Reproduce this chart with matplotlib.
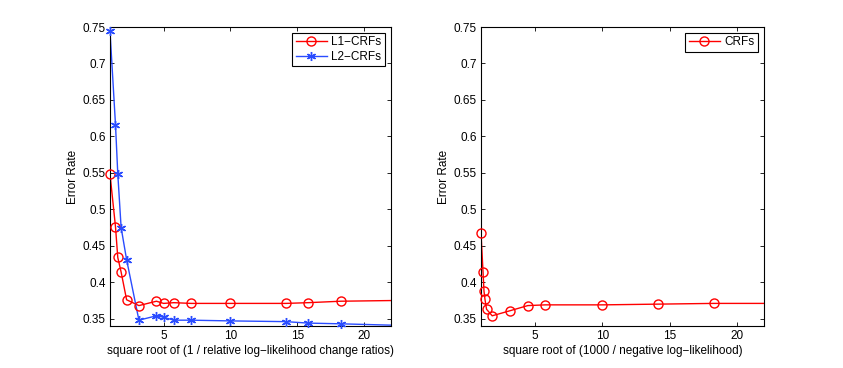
import matplotlib.pyplot as plt
import numpy as np

plt.rcParams['font.family'] = ['Liberation Sans', 'DejaVu Sans']

# left panel: error rate vs sqrt(1 / relative log-likelihood change ratio)
x_left = [1.0, 1.41, 1.58, 1.83, 2.24, 3.16, 4.47, 5.0, 5.77, 7.07, 10.0, 14.14, 15.81, 18.26, 22.36]
l1_crfs = [0.548, 0.476, 0.434, 0.414, 0.376, 0.368, 0.374, 0.371, 0.372, 0.371, 0.371, 0.371, 0.372, 0.374, 0.375]
l2_crfs = [0.744, 0.616, 0.549, 0.475, 0.431, 0.348, 0.354, 0.352, 0.348, 0.348, 0.347, 0.346, 0.344, 0.343, 0.341]

# right panel: error rate vs sqrt(1000 / negative log-likelihood)
x_right = [1.0, 1.15, 1.22, 1.29, 1.41, 1.83, 3.16, 4.47, 5.77, 10.0, 14.14, 18.26, 22.36]
crfs = [0.467, 0.414, 0.388, 0.377, 0.363, 0.354, 0.361, 0.368, 0.369, 0.369, 0.370, 0.371, 0.371]

yticks = [0.35, 0.4, 0.45, 0.5, 0.55, 0.6, 0.65, 0.7, 0.75]
ytick_labels = ['0.35', '0.4', '0.45', '0.5', '0.55', '0.6', '0.65', '0.7', '0.75']
xticks = [5, 10, 15, 20]
xmax = 22

red = '#ff0000'
blue = '#2a4cff'

fig = plt.figure(figsize=(8.43, 3.68), dpi=100)
ax1 = fig.add_axes([0.1305, 0.1141, 0.3333, 0.8125])
ax2 = fig.add_axes([0.5706, 0.1141, 0.3357, 0.8125])


def curve(ax, x, y, color, marker, ms, label):
    # line is clipped at the box, markers are not (matlab style)
    inside = [i for i, v in enumerate(x) if v <= xmax]
    ax.plot(x, y, '-', color=color, lw=1.0)
    ax.plot(x, y, ls='none', marker=marker, color=color, mfc='none', ms=ms, mew=1.0,
            markevery=inside, clip_on=False, zorder=3)
    ax.plot([], [], '-', marker=marker, color=color, mfc='none', ms=ms, mew=1.0, lw=1.0, label=label)


curve(ax1, x_left, l1_crfs, red, 'o', 6.5, 'L1\u2212CRFs')
curve(ax1, x_left, l2_crfs, blue, (6, 2, 0), 6.5, 'L2\u2212CRFs')
ax1.set_xlabel('square root of (1 / relative log\u2212likelihood change ratios)', fontsize=8.5, labelpad=2)

curve(ax2, x_right, crfs, red, 'o', 6.5, 'CRFs')
ax2.set_xlabel('square root of (1000 / negative log\u2212likelihood)', fontsize=8.5, labelpad=2)

for ax in (ax1, ax2):
    ax.set_xlim(1, xmax)
    ax.set_ylim(0.34, 0.75)
    ax.set_xticks(xticks)
    ax.set_yticks(yticks)
    ax.set_yticklabels(ytick_labels)
    ax.set_ylabel('Error Rate', fontsize=8.5, labelpad=3)
    ax.tick_params(direction='in', top=True, right=True, labelsize=8.5, length=3, width=0.6, pad=3)
    for s in ax.spines.values():
        s.set_linewidth(0.8)
    leg = ax.legend(loc='upper right', fontsize=8.5, fancybox=False, framealpha=1,
                    edgecolor='black', borderaxespad=0.5, handlelength=2.6,
                    borderpad=0.3, labelspacing=0.2, handletextpad=0.4)
    leg.get_frame().set_linewidth(0.8)

fig.savefig('out.png', dpi=100)
